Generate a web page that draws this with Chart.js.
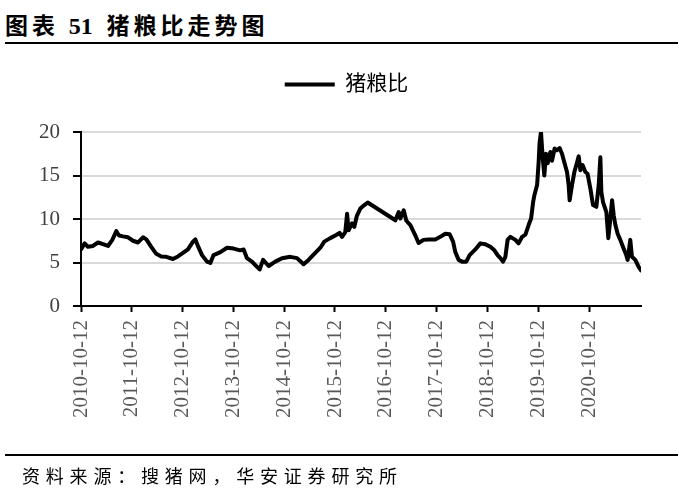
<!DOCTYPE html>
<html lang="zh">
<head>
<meta charset="utf-8">
<title>猪粮比走势图</title>
<script src="https://cdn.jsdelivr.net/npm/chart.js@4.4.0/dist/chart.umd.min.js"></script>
<style>
    body { margin: 0; background: #fff; }
    #lienzo { position: relative; width: 678px; height: 496px; overflow: hidden; }
    #graficoPigGrano { position: absolute; left: 0; top: 0; }
    .titulo {
        position: absolute; left: 5px; top: 7px;
        font: bold 23px "Liberation Serif", "Noto Sans CJK SC", serif;
        letter-spacing: 4px; color: #000; white-space: nowrap;
    }
    .titulo .num { letter-spacing: 0; margin-right: 4px; font-size: 24px; }
    .regla { position: absolute; left: 5px; right: 0; height: 2px; background: #000; }
    .fuente {
        position: absolute; left: 22px; top: 462px;
        font: 18px "Liberation Serif", "Noto Sans CJK SC", serif;
        letter-spacing: 5.8px; color: #000; white-space: nowrap;
    }
</style>
</head>
<body>
<div id="lienzo">
    <div class="titulo">图表 <span class="num">51</span> 猪粮比走势图</div>
    <div class="regla" style="top: 42px;"></div>
    <canvas id="graficoPigGrano" width="678" height="496"></canvas>
    <div class="regla" style="top: 454px;"></div>
    <div class="fuente">资料来源：搜猪网，华安证券研究所</div>
</div>
<script>
// Etiquetas del eje X (una por año)
const etiquetasX = [
    '2010-10-12', '2011-10-12', '2012-10-12', '2013-10-12', '2014-10-12', '2015-10-12',
    '2016-10-12', '2017-10-12', '2018-10-12', '2019-10-12', '2020-10-12'
];

// Fechas de la serie
const fechas = [
    '2010-10-12', '2010-11-07', '2010-12-01',
    '2011-01-06', '2011-02-11', '2011-03-19', '2011-04-24', '2011-05-25', '2011-06-23', '2011-07-12', '2011-08-10', '2011-09-15', '2011-10-21', '2011-11-26',
    '2012-01-01', '2012-01-25', '2012-02-29', '2012-04-05', '2012-05-11', '2012-06-16', '2012-08-03', '2012-09-08', '2012-10-14', '2012-11-19', '2012-12-25',
    '2013-01-11', '2013-01-27', '2013-02-28', '2013-04-05', '2013-04-29', '2013-05-22', '2013-07-10', '2013-08-27', '2013-10-13', '2013-11-30', '2013-12-24',
    '2014-01-17', '2014-02-22', '2014-03-18', '2014-04-18', '2014-05-13', '2014-06-22', '2014-08-09', '2014-09-26', '2014-11-25',
    '2015-01-12', '2015-02-28', '2015-04-05', '2015-05-11', '2015-06-29', '2015-07-27', '2015-09-08', '2015-10-14', '2015-11-14', '2015-12-02', '2015-12-25',
    '2016-01-07', '2016-01-18', '2016-02-11', '2016-02-28', '2016-03-18', '2016-04-11', '2016-05-10', '2016-06-03', '2016-12-19',
    '2017-01-12', '2017-01-24', '2017-02-17', '2017-03-08', '2017-04-06', '2017-05-12', '2017-06-04', '2017-07-10', '2017-08-15', '2017-10-02', '2017-11-07', '2017-12-13',
    '2018-01-13', '2018-02-07', '2018-02-23', '2018-03-19', '2018-04-12', '2018-05-13', '2018-06-06', '2018-07-17', '2018-08-22', '2018-09-27', '2018-11-02', '2018-12-01', '2018-12-24',
    '2019-01-13', '2019-02-01', '2019-02-18', '2019-03-06', '2019-03-26', '2019-05-01', '2019-05-24', '2019-06-18', '2019-07-12', '2019-08-04', '2019-08-22',
    '2019-09-05', '2019-09-14', '2019-10-04', '2019-10-15', '2019-10-22', '2019-11-01', '2019-11-13', '2019-11-25', '2019-12-07', '2019-12-19',
    '2020-01-07', '2020-01-19', '2020-02-07', '2020-02-24', '2020-03-14', '2020-03-31', '2020-04-17', '2020-05-06', '2020-05-18', '2020-05-25', '2020-06-11',
    '2020-06-28', '2020-07-17', '2020-07-29', '2020-08-10', '2020-08-26', '2020-09-15', '2020-10-01', '2020-10-21', '2020-11-09', '2020-12-03', '2020-12-20',
    '2021-01-01', '2021-01-08', '2021-01-20', '2021-02-13', '2021-02-27', '2021-03-09', '2021-03-26', '2021-04-07', '2021-04-19', '2021-05-05',
    '2021-05-24', '2021-06-17', '2021-07-06', '2021-07-16', '2021-08-04', '2021-08-16', '2021-09-09', '2021-10-03', '2021-10-20'
];

// Valores del 猪粮比 para cada fecha
const valores = [
    6.5, 7.2, 6.8,
    6.9, 7.3, 7.1, 6.9, 7.6, 8.6, 8.1, 8.0, 7.9, 7.5, 7.3,
    7.9, 7.65, 6.8, 6.0, 5.7, 5.65, 5.4, 5.7, 6.1, 6.5, 7.4,
    7.65, 7.0, 5.85, 5.1, 4.95, 5.85, 6.2, 6.7, 6.6, 6.4, 6.5,
    5.5, 5.1, 4.7, 4.2, 5.3, 4.6, 5.1, 5.5, 5.65,
    5.5, 4.8, 5.3, 5.9, 6.7, 7.4, 7.8, 8.1, 8.4, 7.95, 8.5,
    10.6, 8.7, 9.5, 9.1, 10.4, 11.2, 11.6, 11.9, 9.85,
    10.8, 10.05, 11.0, 9.8, 9.3, 8.1, 7.25, 7.6, 7.65, 7.65, 7.95, 8.3,
    8.25, 7.4, 6.2, 5.3, 5.1, 5.1, 5.85, 6.5, 7.2, 7.1, 6.8, 6.4, 5.85,
    5.5, 5.1, 5.65, 7.6, 7.95, 7.6, 7.2, 7.95, 8.2, 9.3, 10.05,
    11.9, 12.7, 13.9, 16.5, 18.8, 20.0, 17.1, 15.0, 17.5, 16.4,
    17.7, 16.7, 18.1, 17.9, 18.15, 17.5, 16.5, 15.4, 13.9, 12.15, 13.9,
    15.4, 16.5, 17.2, 15.6, 16.2, 15.4, 15.2, 13.5, 11.6, 11.4, 13.9,
    17.1, 13.1, 11.95, 10.8, 7.8, 9.3, 12.15, 10.4, 9.3, 8.3,
    7.6, 6.6, 5.85, 5.3, 7.6, 5.65, 5.3, 4.5, 4.1
];

const nombreSerie = '猪粮比';

// Años transcurridos desde la primera etiqueta (eje X lineal)
const inicio = Date.parse(etiquetasX[0]);
const aniosDesdeInicio = (fecha) => (Date.parse(fecha) - inicio) / (365.25 * 86400000);

const puntos = fechas.map((f, i) => ({ x: aniosDesdeInicio(f), y: valores[i] }));
const posicionesTicks = etiquetasX.map(aniosDesdeInicio);

const fuenteSerif = '"Liberation Serif", "Noto Sans CJK SC", serif';

// Altura fija de la leyenda y un pequeño corrimiento a la derecha
const ajusteLeyenda = {
    id: 'ajusteLeyenda',
    beforeInit(chart) {
        const fitOriginal = chart.legend.fit;
        chart.legend.fit = function () {
            fitOriginal.call(this);
            this.height = 66;
        };
    },
    afterLayout(chart) {
        chart.legend.left += 26;
        chart.legend.right += 26;
    }
};

const ctx = document.getElementById('graficoPigGrano').getContext('2d');
new Chart(ctx, {
    type: 'line',
    data: {
        datasets: [{
            label: nombreSerie,
            data: puntos,
            borderColor: '#000',
            backgroundColor: '#000',
            borderWidth: 4,
            borderJoinStyle: 'round',
            borderCapStyle: 'round',
            pointRadius: 0,
            tension: 0
        }]
    },
    options: {
        responsive: false,
        animation: false,
        devicePixelRatio: 1,
        layout: { padding: { top: 66, left: 0, right: 37, bottom: 0 } },
        plugins: {
            legend: {
                display: true,
                position: 'top',
                labels: {
                    usePointStyle: true,
                    pointStyle: 'line',
                    pointStyleWidth: 50,
                    color: '#000',
                    font: { family: fuenteSerif, size: 21 },
                    padding: 8
                }
            },
            tooltip: { enabled: false }
        },
        scales: {
            x: {
                type: 'linear',
                min: 0,
                max: puntos[puntos.length - 1].x,
                afterFit: (scale) => { scale.height = 190; },
                afterBuildTicks: (scale) => {
                    scale.ticks = posicionesTicks.map(v => ({ value: v }));
                },
                ticks: {
                    autoSkip: false,
                    minRotation: 90,
                    maxRotation: 90,
                    padding: 8,
                    color: '#595959',
                    font: { family: fuenteSerif, size: 21 },
                    callback: (valor, indice) => etiquetasX[indice]
                },
                grid: {
                    drawOnChartArea: false,
                    drawTicks: true,
                    tickLength: 6,
                    tickColor: '#000',
                    tickWidth: 2
                },
                border: { color: '#000', width: 2 }
            },
            y: {
                min: 0,
                max: 20,
                afterFit: (scale) => { scale.width = 81; },
                ticks: {
                    stepSize: 5,
                    padding: 13,
                    color: '#404040',
                    font: { family: fuenteSerif, size: 21 }
                },
                grid: {
                    color: '#d9d9d9',
                    lineWidth: 2,
                    drawTicks: true,
                    tickLength: 8,
                    tickColor: '#000',
                    tickWidth: 2
                },
                border: { color: '#000', width: 2 }
            }
        }
    },
    plugins: [ajusteLeyenda]
});
</script>
</body>
</html>
